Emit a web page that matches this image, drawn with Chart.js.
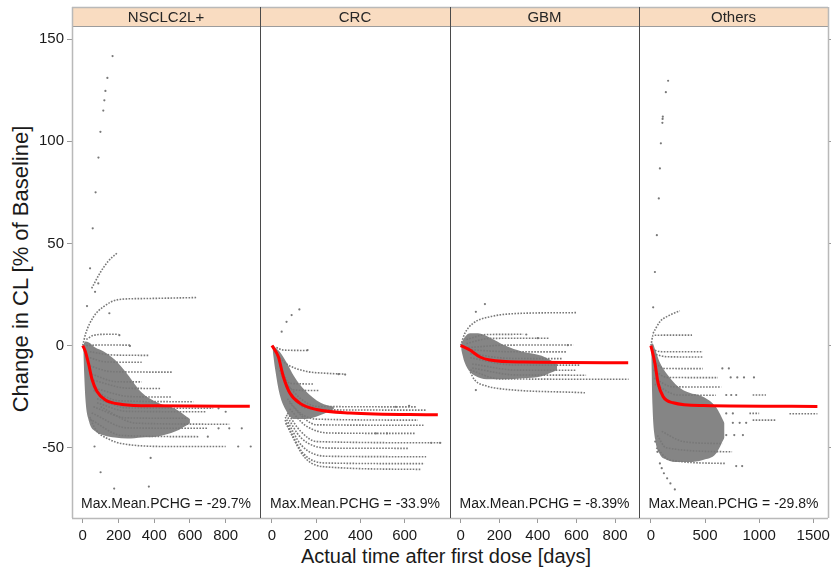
<!DOCTYPE html>
<html>
<head>
<meta charset="utf-8">
<title>Change in CL over time</title>
<script src="https://cdn.jsdelivr.net/npm/chart.js@4.4.1/dist/chart.umd.min.js"></script>
<style>
    html, body { margin: 0; padding: 0; background: #fff; }
    #wrap {
        position: relative;
        width: 832px;
        height: 574px;
        overflow: hidden;
        font-family: "Liberation Sans", Arial, sans-serif;
    }
    #wrap canvas { position: absolute; left: 0; top: 0; }
    .axis-title { position: absolute; color: #1a1a1a; white-space: nowrap; text-align: center; }
    #xTitle { left: 246px; top: 545px; width: 400px; font-size: 20px; line-height: 22px; }
    #yTitle { left: -179px; top: 258px; width: 400px; font-size: 22px; line-height: 22px; transform: rotate(-90deg); }
</style>
</head>
<body>
<div id="wrap">
    <div id="xTitle" class="axis-title">Actual time after first dose [days]</div>
    <div id="yTitle" class="axis-title">Change in CL [% of Baseline]</div>
</div>
<script>
// ---- data: [day, % change] ----
const panelNames = ['NSCLC2L+', 'CRC', 'GBM', 'Others'];
const maxMeanPchg = ['-29.7%', '-33.9%', '-8.39%', '-29.8%'];
const yTicks = [-50, 0, 50, 100, 150];
const yRange = [-84.4, 156.4];

const nsclcXTicks = [0, 200, 400, 600, 800];
const crcXTicks = [0, 200, 400, 600];
const gbmXTicks = [0, 200, 400, 600, 800];
const othersXTicks = [0, 500, 1000, 1500];

const nsclcXRange = [-60, 992];
const crcXRange = [-54, 805];
const gbmXRange = [-55, 924];
const othersXRange = [-110, 1636];

// population mean curves
const nsclcMean = [[0, 0], [15, -3], [33, -9], [52, -16.5], [80, -22.5], [127, -26.7], [220, -28.8], [400, -29.5], [935, -29.7]];
const crcMean = [[0, 0], [29, -5.5], [51, -15], [81, -23.2], [127, -28.3], [202, -31.3], [353, -33], [750, -33.9]];
const gbmMean = [[0, 0], [48, -2.2], [100, -5.6], [152, -7.1], [324, -8.1], [868, -8.39]];
const othersMean = [[0, 0], [37, -8.7], [67, -18.5], [113, -25], [205, -28], [481, -29.4], [1538, -29.8]];

// dense part of the individual profiles (upper / lower edge)
const nsclcCloudTop = [[3, 0.5], [15, 2], [35, 1.5], [70, -1], [120, -3], [180, -7], [250, -14], [330, -23], [420, -28], [520, -31], [600, -36]];
const nsclcCloudBottom = [[3, -3], [15, -26], [35, -37], [70, -42], [120, -44], [180, -45], [250, -45.5], [330, -45], [420, -44.5], [520, -42], [600, -38]];
const crcCloudTop = [[3, 0.5], [15, -1], [35, -3], [65, -8], [100, -15], [150, -22], [220, -28], [280, -30]];
const crcCloudBottom = [[3, -2], [15, -12], [35, -24], [65, -32], [100, -36], [150, -36], [220, -34], [280, -31]];
const gbmCloudTop = [[3, 1], [20, 4], [50, 6], [90, 6], [150, 4], [230, 0], [320, -3], [420, -5], [500, -9]];
const gbmCloudBottom = [[3, -2], [20, -8], [50, -13], [90, -15.5], [150, -16.5], [230, -16.5], [320, -16], [420, -15], [500, -12]];
const othersCloudTop = [[3, 1], [15, 1], [40, -2], [80, -8], [150, -14], [250, -20], [350, -23], [480, -25], [600, -30], [680, -38]];
const othersCloudBottom = [[3, -4], [15, -30], [40, -46], [80, -53], [150, -56], [250, -57], [350, -57], [480, -56], [600, -53], [680, -45]];

// individual profiles that stand out of the dense part
const nsclcPaths = [
    [[0, 0], [17, 6], [60, 14], [116, 19], [200, 22.5], [340, 23], [640, 23.5]],
    [[50, 28], [100, 36], [140, 41], [195, 45.5]],
    [[20, 3], [60, 5], [130, 5.5], [200, 5.5]],
    [[20, 0], [100, 0.3], [265, 0.2]],
    [[40, -3], [165, -4.6], [370, -4.8]],
    [[40, -6], [130, -8], [330, -8.2]],
    [[40, -10], [165, -12.8], [500, -13]],
    [[50, -14], [190, -17.7], [330, -17.8]],
    [[60, -17], [255, -20.9], [440, -21]],
    [[70, -21], [270, -25], [500, -25.2]],
    [[60, -22], [200, -27], [620, -27.5]],
    [[80, -26], [250, -30.5], [730, -30.7]],
    [[80, -28], [250, -32.2], [690, -32.4]],
    [[60, -30], [250, -35.4], [590, -35.6]],
    [[100, -30], [300, -38], [820, -38.5]],
    [[50, -33], [250, -40.3], [700, -40.5]],
    [[40, -36], [220, -44], [650, -44.6]],
    [[40, -35], [72, -41], [150, -46], [220, -48], [495, -49.4], [800, -49.4]]
];
const crcPaths = [
    [[20, -1], [51, -2.2], [161, -2.4]],
    [[25, -5], [66, -9], [150, -12.5], [250, -13.6], [331, -14]],
    [[35, -10], [81, -18.5], [192, -18.8]],
    [[35, -12], [66, -19], [110, -21.8], [210, -22]],
    [[60, -18], [130, -26], [202, -29.8], [655, -30]],
    [[70, -22], [150, -30.5], [300, -31.5], [700, -31.6]],
    [[70, -26], [127, -33], [200, -36], [660, -36.5]],
    [[80, -28], [150, -36], [202, -38.8], [685, -39]],
    [[80, -31], [150, -39], [260, -42.8], [650, -43]],
    [[70, -33], [130, -42], [202, -47], [770, -47.6]],
    [[65, -34], [130, -45], [257, -50.2], [620, -50.3]],
    [[60, -35], [135, -49], [257, -54.2], [697, -54.4]],
    [[59, -36.5], [142, -52.8], [248, -57.5], [690, -57.8]],
    [[62, -38], [150, -55], [260, -59.5], [677, -60.6]]
];
const gbmPaths = [
    [[0, 0], [22, 6], [65, 10.9], [152, 14.1], [324, 15.8], [601, 16.1]],
    [[30, 3], [135, 5.4], [324, 5.5]],
    [[30, 1], [152, 3.5], [462, 3.6]],
    [[40, -1], [238, 0.2], [584, 0.3]],
    [[40, -2], [238, -3], [550, -3.1]],
    [[50, -4], [260, -6.3], [530, -6.4]],
    [[50, -6], [272, -9.5], [616, -9.6]],
    [[60, -9], [290, -12], [600, -12.1]],
    [[60, -11], [290, -14.4], [650, -14.5]],
    [[50, -12], [200, -16.3], [870, -16.5]],
    [[50, -13], [73, -16.9], [135, -19.8], [195, -21], [644, -23.1]]
];
const othersPaths = [
    [[0, 0], [21, 5], [200, 5.1], [380, 5.1]],
    [[20, 6], [83, 11.7], [175, 14.9], [267, 17]],
    [[10, -2], [100, -3], [480, -3]],
    [[20, -4], [150, -5.5], [480, -5.6]],
    [[20, -8], [130, -11.2], [480, -11.3]],
    [[25, -12], [150, -15.6], [620, -15.7]],
    [[30, -16], [200, -20.2], [650, -20.3]],
    [[35, -19], [250, -24.2], [600, -24.3]],
    [[940, -24.2], [1063, -24.2]],
    [[910, -33.2], [1000, -33.2]],
    [[1280, -33.4], [1538, -33.4]],
    [[940, -36.5], [1155, -36.5]],
    [[100, -42], [300, -47], [660, -48]],
    [[60, -44], [140, -50], [750, -52]],
    [[50, -50], [173, -56], [695, -57.7]]
];

// isolated observations
const nsclcDots = [
    [72, 75], [88, 92], [99, 104.6], [115, 115], [121, 120], [127, 124.6], [138, 131], [167, 141.7],
    [56, 57.4], [41, 37.8], [69, 26.3], [87, 30.4], [24, 19.3], [149, 15.8], [205, 5.1], [264, -0.2],
    [760, -40.5], [820, -40.5], [890, -40.5], [870, -49.4], [940, -49.4], [66, -49.4], [100, -62],
    [380, -55], [370, -69], [176, -70], [760, -30.7], [800, -32.4], [700, -44.6]
];
const crcDots = [
    [44, 6.8], [66, 11.6], [89, 14.9], [124, 17.7], [161, -2.2], [301, -14], [331, -14.2],
    [560, -30], [620, -29.5], [470, -43], [520, -43], [720, -47.6], [760, -47.6]
];
const gbmDots = [[126, 20.3], [79, 16.5], [79, -21.8], [340, 5.4], [400, 3.6], [555, 0.2]];
const othersDots = [
    [159, 129.6], [138, 124], [110, 112], [108, 110.9], [106, 109], [92, 99], [83, 86.7], [73, 72],
    [55, 54], [37, 36], [21, 18.7], [40, -47], [60, -52], [83, -57.7], [100, -60], [120, -62.5],
    [150, -65], [180, -67.5], [221, -70.4], [660, -11.2], [720, -11.2], [737, -15.6], [798, -15.6],
    [860, -15.6], [952, -15.6], [696, -24.2], [742, -24.2], [788, -24.2], [696, -33.2], [757, -33.2],
    [757, -37.8], [820, -37.8], [880, -37.8], [696, -43.8], [770, -43.8], [850, -43.8], [788, -59], [843, -59]
];

// ---- layout ----
const PLOT_TOP = 26;
const PLOT_BOTTOM = 518;
const STRIP_TOP = 7;
const X_AXIS_H = 30;
const Y_AXIS_W = 40;
const FONT = '"Liberation Sans", Arial, sans-serif';

const panels = [
    { left: 72, right: 260, xRange: nsclcXRange, xTicks: nsclcXTicks, mean: nsclcMean, top: nsclcCloudTop, bottom: nsclcCloudBottom, paths: nsclcPaths, dots: nsclcDots },
    { left: 260, right: 450, xRange: crcXRange, xTicks: crcXTicks, mean: crcMean, top: crcCloudTop, bottom: crcCloudBottom, paths: crcPaths, dots: crcDots },
    { left: 450, right: 639, xRange: gbmXRange, xTicks: gbmXTicks, mean: gbmMean, top: gbmCloudTop, bottom: gbmCloudBottom, paths: gbmPaths, dots: gbmDots },
    { left: 639, right: 829, xRange: othersXRange, xTicks: othersXTicks, mean: othersMean, top: othersCloudTop, bottom: othersCloudBottom, paths: othersPaths, dots: othersDots }
];

const toXY = pts => pts.map(([x, y]) => ({ x, y }));

// strip, frame and the summary text of each panel
const panelDecor = {
    id: 'panelDecor',
    afterDraw(chart, args, opts) {
        const { ctx, chartArea: a } = chart;
        const light = '#b9b9b9';
        const dark = '#4a4a4a';
        ctx.save();

        ctx.fillStyle = '#f9dcc1';
        ctx.fillRect(a.left, STRIP_TOP, a.right - a.left, a.top - STRIP_TOP);

        const hLine = (y, color, w) => {
            ctx.strokeStyle = color; ctx.lineWidth = w;
            ctx.beginPath(); ctx.moveTo(a.left, y); ctx.lineTo(a.right, y); ctx.stroke();
        };
        const vLine = (x, color, w) => {
            ctx.strokeStyle = color; ctx.lineWidth = w;
            ctx.beginPath(); ctx.moveTo(x, STRIP_TOP); ctx.lineTo(x, a.bottom); ctx.stroke();
        };
        hLine(STRIP_TOP + 0.5, light, 1.5);
        hLine(a.top + 0.5, '#9c9c9c', 1);
        hLine(a.bottom + 0.5, light, 1.5);
        vLine(a.left + 0.5, opts.first ? light : dark, opts.first ? 1.5 : 1);
        vLine(a.right + 0.5, opts.last ? light : dark, opts.last ? 1.5 : 1);

        const cx = (a.left + a.right) / 2;
        ctx.fillStyle = '#262626';
        ctx.textAlign = 'center';
        ctx.textBaseline = 'middle';
        ctx.font = `15px ${FONT}`;
        ctx.fillText(opts.title, cx, (STRIP_TOP + a.top) / 2 + 1);

        ctx.fillStyle = '#1a1a1a';
        ctx.textBaseline = 'alphabetic';
        ctx.font = `14px ${FONT}`;
        ctx.fillText(`Max.Mean.PCHG = ${opts.note}`, cx, a.bottom - 10);
        ctx.restore();
    }
};

function tickAxis(ticks, extra) {
    return Object.assign({
        type: 'linear',
        afterBuildTicks: scale => { scale.ticks = ticks.map(value => ({ value })); },
        grid: { display: true, drawOnChartArea: false, drawTicks: true, tickLength: 5, color: '#9a9a9a', lineWidth: 1 },
        border: { display: false },
        ticks: {
            autoSkip: false,
            maxRotation: 0,
            color: '#1a1a1a',
            font: { family: FONT, size: 15 },
            callback: v => String(v)
        }
    }, extra);
}

function buildPanel(p, idx) {
    const canvas = document.createElement('canvas');
    canvas.width = 832;
    canvas.height = 574;
    document.getElementById('wrap').appendChild(canvas);

    const first = idx === 0;
    const last = idx === panels.length - 1;

    const datasets = [
        {
            data: toXY(p.mean), borderColor: '#ff0000', borderWidth: 3, pointRadius: 0,
            cubicInterpolationMode: 'monotone', order: 0
        },
        {
            data: toXY(p.dots), showLine: false, pointRadius: 1.1, pointBorderWidth: 0,
            pointBackgroundColor: '#787878', order: 1
        }
    ];
    p.paths.forEach(path => datasets.push({
        data: toXY(path), borderColor: '#787878', borderWidth: 1.6, borderDash: [1.6, 1.4],
        pointRadius: 0, cubicInterpolationMode: 'monotone', order: 2
    }));
    // dense cloud: the top edge is filled down to the bottom edge (next dataset)
    datasets.push({
        data: toXY(p.top), borderColor: 'rgba(0,0,0,0)', borderWidth: 0, pointRadius: 0,
        fill: '+1', backgroundColor: '#858585', cubicInterpolationMode: 'monotone', order: 3
    });
    datasets.push({
        data: toXY(p.bottom), borderColor: 'rgba(0,0,0,0)', borderWidth: 0, pointRadius: 0,
        fill: false, cubicInterpolationMode: 'monotone', order: 3
    });

    const scales = {
        x: tickAxis(p.xTicks, {
            min: p.xRange[0], max: p.xRange[1], position: 'bottom',
            afterFit: s => { s.height = X_AXIS_H; s.paddingLeft = 0; s.paddingRight = 0; }
        }),
        // only the first panel shows the y axis; the others just share its range
        y: tickAxis(yTicks, {
            min: yRange[0], max: yRange[1], position: 'left', display: first,
            afterFit: s => {
                s.width = first ? Y_AXIS_W : 0;
                s.paddingTop = 0;
                s.paddingBottom = 0;
            }
        })
    };
    scales.x.ticks.padding = 4;
    scales.y.ticks.padding = 3;
    if (last) {
        scales.yRight = tickAxis(yTicks, {
            min: yRange[0], max: yRange[1], position: 'right',
            afterFit: s => { s.width = 3; s.paddingTop = 0; s.paddingBottom = 0; }
        });
        scales.yRight.ticks.display = false;
        scales.yRight.grid.tickLength = 3;
    }

    return new Chart(canvas, {
        type: 'line',
        data: { datasets },
        options: {
            responsive: false,
            animation: false,
            events: [],
            layout: {
                padding: {
                    left: first ? p.left - Y_AXIS_W : p.left,
                    right: last ? 0 : 832 - p.right,
                    top: PLOT_TOP,
                    bottom: 574 - PLOT_BOTTOM - X_AXIS_H
                }
            },
            scales,
            plugins: {
                legend: { display: false },
                tooltip: { enabled: false },
                panelDecor: { title: panelNames[idx], note: maxMeanPchg[idx], first, last }
            }
        },
        plugins: [panelDecor]
    });
}

panels.forEach(buildPanel);
</script>
</body>
</html>
